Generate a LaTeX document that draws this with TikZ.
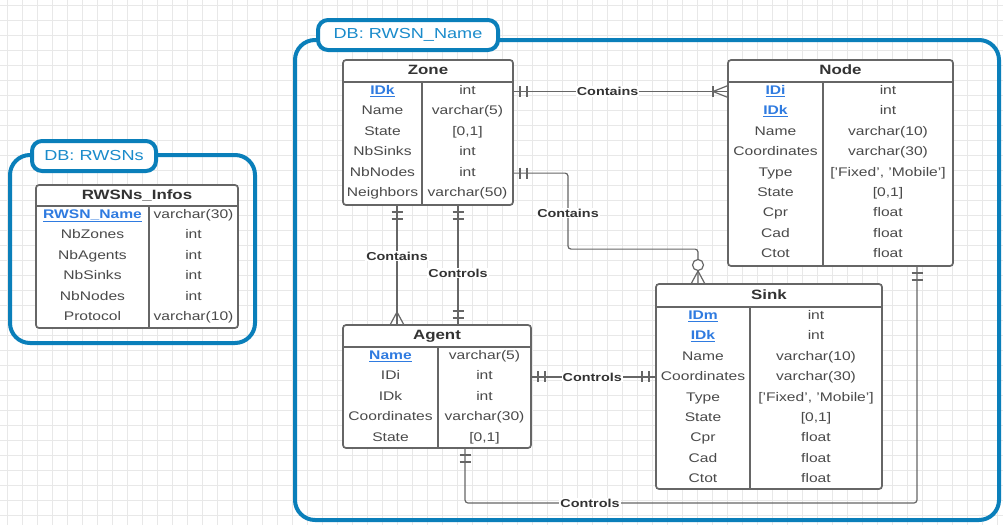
\documentclass[tikz,border=0pt]{standalone}
\usepackage{fontspec}
\setmainfont{Liberation Sans}
\usetikzlibrary{calc}
\definecolor{dbblue}{HTML}{0A7FBA}
\definecolor{dbtext}{HTML}{1A8BCB}
\definecolor{tblline}{HTML}{666666}
\definecolor{rowtext}{HTML}{4A4A4A}
\definecolor{hdrtext}{HTML}{333333}
\definecolor{pkblue}{HTML}{2F7BE0}
\definecolor{gridc}{HTML}{E8E8E8}

\newcommand{\sx}[1]{\scalebox{1.25}[1]{#1}}
\newcommand{\pkf}[1]{\textcolor{pkblue}{\textbf{\underline{#1}}}}
\newcommand{\nrm}[1]{#1}

\tikzset{
 tbl/.style={draw=tblline, line width=1.7pt, rounded corners=3pt, fill=white, anchor=north west, inner sep=0pt, outer sep=0pt},
 tline/.style={draw=tblline, line width=1.7pt},
 cell/.style={inner sep=0pt, text=rowtext, text height=9pt, text depth=3pt, font=\fontsize{12.5}{14}\selectfont},
 hdr/.style={inner sep=0pt, text=hdrtext, text height=10pt, text depth=3pt, font=\fontsize{13.5}{15}\selectfont\bfseries},
 rel/.style={draw=tblline, line width=1.2pt},
 lbl/.style={fill=white, inner sep=1pt, text=hdrtext, font=\fontsize{11.5}{13}\selectfont\bfseries},
 dbbox/.style={draw=dbblue, line width=4pt, rounded corners=20pt},
 dbtab/.style={draw=dbblue, line width=4pt, rounded corners=10pt, fill=white, text=dbtext, font=\fontsize{14.5}{16}\selectfont, inner sep=0pt},
 gridline/.style={draw=gridc, line width=0.6pt},
}

% #1 name, #2 x1, #3 y1, #4 x2, #5 y2, #6 header bottom, #7 divider x, #8 title, #9 rows
\newcommand{\ertable}[9]{%
  \node[tbl, minimum width={(#4-#2)*1pt}, minimum height={(#5-#3)*1pt}] (#1) at (#2,#3) {};
  \draw[tline] (#2,#6) -- (#4,#6);
  \draw[tline] (#7,#6) -- (#7,#5);
  \node[hdr] (#1-title) at ({(#2+#4)/2},{(#3+#6)/2}) {\sx{#8}};
  \foreach \lt/\rt/\fm [count=\i] in {#9} {
    \node[cell] (#1-l\i) at ({(#2+#7)/2},{#6+9.5+(\i-1)*20.4}) {\sx{\fm{\lt}}};
    \node[cell] (#1-r\i) at ({(#7+#4)/2},{#6+9.5+(\i-1)*20.4}) {\sx{\rt}};
  }
}
\newcommand{\barsH}[2]{%
  \draw[rel] ($(#1)+(#2*7,-5.5)$) -- ($(#1)+(#2*7,5.5)$);
  \draw[rel] ($(#1)+(#2*14,-5.5)$) -- ($(#1)+(#2*14,5.5)$);}
\newcommand{\barsV}[2]{%
  \draw[rel] ($(#1)+(-5.5,#2*7)$) -- ($(#1)+(5.5,#2*7)$);
  \draw[rel] ($(#1)+(-5.5,#2*14)$) -- ($(#1)+(5.5,#2*14)$);}
\newcommand{\crowH}[2]{%
  \draw[rel] ($(#1)+(0,-6)$) -- ($(#1)+(#2*15,0)$) -- ($(#1)+(0,6)$);}
\newcommand{\crowV}[2]{%
  \draw[rel] ($(#1)+(-7,0)$) -- ($(#1)+(0,#2*13)$) -- ($(#1)+(7,0)$);}

\begin{document}
\begin{tikzpicture}[x=1pt,y=-1pt]
\useasboundingbox (0,0) rectangle (1003,525);
\fill[white] (0,0) rectangle (1003,525);
\foreach \gx in {7,22,...,1003} \draw[gridline] (\gx,0) -- (\gx,525);
\foreach \gy in {5,20,...,525} \draw[gridline] (0,\gy) -- (1003,\gy);

% DB containers
\draw[dbbox] (10,155) rectangle (255,343);
\node[dbtab, minimum width=124pt, minimum height=30pt] (db1) at (94,156) {\sx{DB: RWSNs}};
\draw[dbbox] (295,40) rectangle (999,520);
\node[dbtab, minimum width=180pt, minimum height=30pt] (db2) at (408,35) {\sx{DB: RWSN\_Name}};

% tables
\ertable{infos}{36}{185}{238}{328}{206}{149}{RWSNs\_Infos}{RWSN\_Name/varchar(30)/\pkf, NbZones/int/\nrm, NbAgents/int/\nrm, NbSinks/int/\nrm, NbNodes/int/\nrm, Protocol/varchar(10)/\nrm}
\ertable{zone}{343}{60}{513}{205}{82}{422}{Zone}{IDk/int/\pkf, Name/varchar(5)/\nrm, State/{[0,1]}/\nrm, NbSinks/int/\nrm, NbNodes/int/\nrm, Neighbors/varchar(50)/\nrm}
\ertable{node}{728}{60}{953}{266}{82}{823}{Node}{IDi/int/\pkf, IDk/int/\pkf, Name/varchar(10)/\nrm, Coordinates/varchar(30)/\nrm, Type/{['Fixed', 'Mobile']}/\nrm, State/{[0,1]}/\nrm, Cpr/float/\nrm, Cad/float/\nrm, Ctot/float/\nrm}
\ertable{agent}{343}{325}{531}{448}{347}{438}{Agent}{Name/varchar(5)/\pkf, IDi/int/\nrm, IDk/int/\nrm, Coordinates/varchar(30)/\nrm, State/{[0,1]}/\nrm}
\ertable{sink}{656}{284}{882}{489}{307}{750}{Sink}{IDm/int/\pkf, IDk/int/\pkf, Name/varchar(10)/\nrm, Coordinates/varchar(30)/\nrm, Type/{['Fixed', 'Mobile']}/\nrm, State/{[0,1]}/\nrm, Cpr/float/\nrm, Cad/float/\nrm, Ctot/float/\nrm}

% Zone -- Node : Contains
\coordinate (c1a) at (zone.east |- zone-r1);
\coordinate (c1b) at (node.west |- zone-r1);
\draw[rel] (c1a) -- (c1b) node[lbl, pos=0.44] (l1) {\sx{Contains}};
\barsH{c1a}{1}
\crowH{c1b}{-1}
\draw[rel] ($(c1b)+(-15,-5.5)$) -- ($(c1b)+(-15,5.5)$);

% Zone -- Sink : Contains
\coordinate (c2a) at (zone.east |- zone-r5);
\coordinate (c2b) at ($(sink.north west)+(42,0)$);
\coordinate (c2m) at ($(c2a)+(55,76)$);
\draw[rel, rounded corners=3pt] (c2a) -| (c2m) -| (c2b);
\node[lbl] (l2) at ($(c2m)+(0,-36)$) {\sx{Contains}};
\barsH{c2a}{1}
\crowV{c2b}{-1}
\draw[rel, fill=white] ($(c2b)+(0,-19)$) circle (5.5);

% Zone -- Agent : Contains
\coordinate (c3a) at ($(zone.south west)+(54,0)$);
\coordinate (c3b) at ($(agent.north west)+(54,0)$);
\draw[rel] (c3a) -- (c3b) node[lbl, pos=0.425] (l3) {\sx{Contains}};
\barsV{c3a}{1}
\crowV{c3b}{-1}

% Zone -- Agent : Controls
\coordinate (c4a) at ($(zone.south west)+(115,0)$);
\coordinate (c4b) at ($(agent.north west)+(115,0)$);
\draw[rel] (c4a) -- (c4b) node[lbl, pos=0.567] (l4) {\sx{Controls}};
\barsV{c4a}{1}
\barsV{c4b}{-1}

% Agent -- Sink : Controls
\coordinate (c5a) at (agent.east |- agent-r2);
\coordinate (c5b) at (sink.west |- agent-r2);
\draw[rel] (c5a) -- (c5b) node[lbl, pos=0.49] (l5) {\sx{Controls}};
\barsH{c5a}{1}
\barsH{c5b}{-1}

% Agent -- Node : Controls
\coordinate (c6a) at ($(agent.south west)+(122,0)$);
\coordinate (c6b) at ($(node.south west)+(189,0)$);
\coordinate (c6m) at ($(c6b)+(0,237)$);
\draw[rel, rounded corners=3pt] (c6a) |- (c6m) -- (c6b);
\node[lbl] (l6) at ($(c6a |- c6m)+(125,0)$) {\sx{Controls}};
\barsV{c6a}{1}
\barsV{c6b}{1}
\end{tikzpicture}
\end{document}
